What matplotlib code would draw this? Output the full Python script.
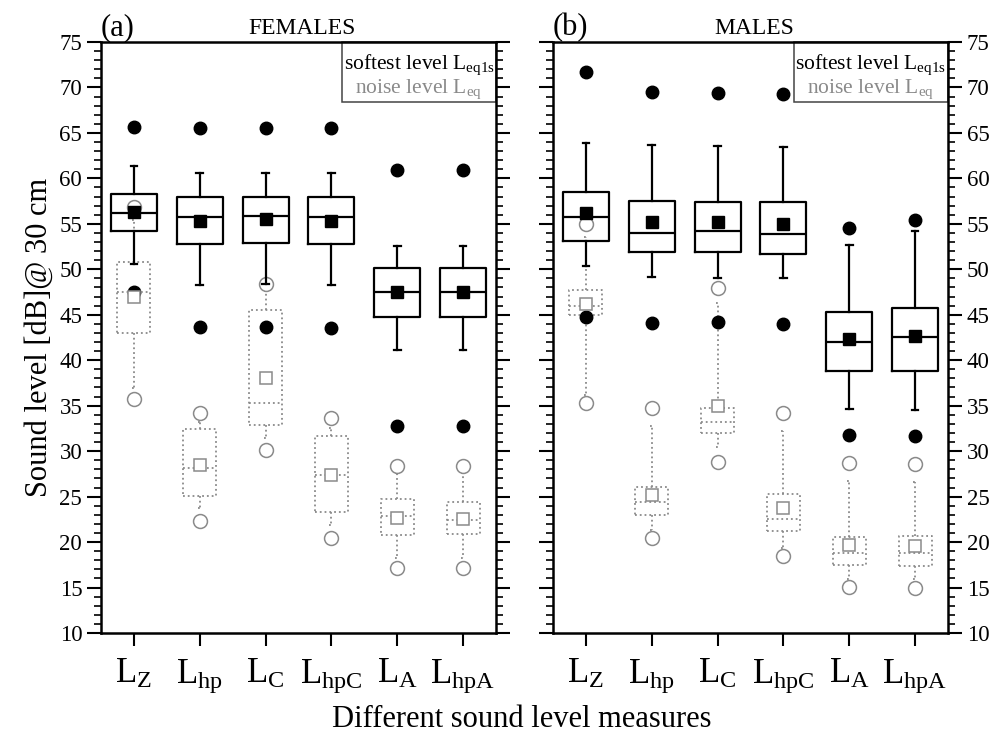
import numpy as np
import matplotlib
matplotlib.use("Agg")
import matplotlib.pyplot as plt
from matplotlib.patches import Rectangle
from matplotlib.ticker import MultipleLocator

plt.rcParams['font.family'] = ['Liberation Serif', 'DejaVu Serif']
plt.rcParams['mathtext.fontset'] = 'custom'
plt.rcParams['mathtext.rm'] = 'Liberation Serif'
plt.rcParams['mathtext.it'] = 'Liberation Serif:italic'
plt.rcParams['mathtext.bf'] = 'Liberation Serif:bold'

measures = [r"$\mathrm{L}_{\mathrm{Z}}$", r"$\mathrm{L}_{\mathrm{hp}}$", r"$\mathrm{L}_{\mathrm{C}}$",
            r"$\mathrm{L}_{\mathrm{hpC}}$", r"$\mathrm{L}_{\mathrm{A}}$", r"$\mathrm{L}_{\mathrm{hpA}}$"]

# softest level Leq1s: whislo, q1, med, q3, whishi, mean, fliers
fem_soft_whislo = [50.6, 48.3, 48.4, 48.3, 41.1, 41.1]
fem_soft_q1 = [54.2, 52.8, 52.9, 52.8, 44.7, 44.7]
fem_soft_med = [56.2, 55.8, 55.9, 55.8, 47.5, 47.5]
fem_soft_q3 = [58.3, 57.9, 58.0, 57.9, 50.1, 50.1]
fem_soft_whishi = [61.4, 60.6, 60.6, 60.6, 52.6, 52.6]
fem_soft_mean = [56.3, 55.3, 55.5, 55.3, 47.5, 47.5]
fem_soft_fliers = [[65.7, 47.5], [65.5, 43.6], [65.5, 43.7], [65.5, 43.5], [60.9, 32.8], [60.9, 32.8]]

# noise level Leq
fem_noise_whislo = [36.9, 23.7, 31.4, 21.9, 18.2, 18.2]
fem_noise_q1 = [43.0, 25.1, 32.9, 23.3, 20.8, 20.9]
fem_noise_med = [47.5, 28.1, 35.3, 27.4, 22.9, 22.4]
fem_noise_q3 = [50.8, 32.4, 45.5, 31.7, 24.7, 24.4]
fem_noise_whishi = [55.4, 33.2, 47.6, 32.5, 27.6, 27.6]
fem_noise_mean = [47.0, 28.5, 38.0, 27.4, 22.7, 22.5]
fem_noise_fliers = [[56.9, 35.7], [34.2, 22.3], [48.4, 30.1], [33.6, 20.5], [28.4, 17.2], [28.4, 17.1]]

male_soft_whislo = [50.4, 49.1, 49.0, 49.0, 34.6, 34.5]
male_soft_q1 = [53.1, 51.9, 51.9, 51.7, 38.8, 38.8]
male_soft_med = [55.7, 54.0, 54.2, 53.9, 42.0, 42.6]
male_soft_q3 = [58.5, 57.5, 57.4, 57.4, 45.3, 45.7]
male_soft_whishi = [63.9, 63.7, 63.6, 63.5, 52.7, 54.2]
male_soft_mean = [56.2, 55.2, 55.2, 55.0, 42.3, 42.7]
male_soft_fliers = [[71.7, 44.8], [69.5, 44.1], [69.4, 44.2], [69.3, 44.0], [54.5, 31.8], [55.4, 31.7]]

male_noise_whislo = [36.2, 21.3, 30.5, 19.3, 15.9, 15.9]
male_noise_q1 = [45.0, 23.0, 32.0, 21.2, 17.5, 17.4]
male_noise_med = [46.0, 24.4, 33.2, 22.5, 18.8, 18.8]
male_noise_q3 = [47.7, 26.1, 34.7, 25.3, 20.6, 20.7]
male_noise_whishi = [53.6, 32.8, 46.3, 32.2, 26.7, 26.6]
male_noise_mean = [46.2, 25.2, 35.0, 23.7, 19.7, 19.6]
male_noise_fliers = [[55.0, 35.3], [34.7, 20.5], [47.9, 28.8], [34.2, 18.5], [28.7, 15.1], [28.6, 15.0]]


def make_stats(lo, q1, med, q3, hi, mean, fl):
    return [dict(whislo=lo[i], q1=q1[i], med=med[i], q3=q3[i], whishi=hi[i],
                 mean=mean[i], fliers=fl[i]) for i in range(len(lo))]


gray = "#8a8a8a"
pos = np.arange(1, 7)


def draw_panel(ax, soft, noise):
    ax.bxp(noise, positions=pos, widths=0.5, showmeans=True, capwidths=0.06,
           boxprops=dict(color=gray, linestyle=":", linewidth=1.3),
           whiskerprops=dict(color=gray, linestyle=":", linewidth=1.3),
           capprops=dict(color=gray, linestyle=":", linewidth=1.3),
           medianprops=dict(color=gray, linestyle=":", linewidth=1.3),
           meanprops=dict(marker="s", markerfacecolor="white", markeredgecolor=gray,
                          markersize=8, markeredgewidth=1.1),
           flierprops=dict(marker="o", markerfacecolor="white", markeredgecolor=gray,
                           markersize=10, markeredgewidth=1.1))
    ax.bxp(soft, positions=pos, widths=0.7, showmeans=True, capwidths=0.1,
           boxprops=dict(color="black", linewidth=1.6),
           whiskerprops=dict(color="black", linewidth=1.6),
           capprops=dict(color="black", linewidth=1.6),
           medianprops=dict(color="black", linewidth=1.6),
           meanprops=dict(marker="s", markerfacecolor="black", markeredgecolor="black",
                          markersize=8),
           flierprops=dict(marker="o", markerfacecolor="black", markeredgecolor="black",
                           markersize=9))
    ax.set_xlim(0.5, 6.5)
    ax.set_ylim(10, 75)
    ax.set_xticks(pos)
    ax.set_xticklabels(measures, fontsize=25)
    ax.yaxis.set_major_locator(MultipleLocator(5))
    ax.yaxis.set_minor_locator(MultipleLocator(1))
    ax.tick_params(axis="x", direction="out", length=9, width=1.5, pad=9)
    ax.tick_params(axis="y", which="major", direction="out", length=10, width=1.5,
                   labelsize=16.5, left=True, right=True)
    ax.tick_params(axis="y", which="minor", direction="out", length=5, width=1.2,
                   left=True, right=True)
    for s in ax.spines.values():
        s.set_linewidth(1.8)
    # legend box
    ax.add_patch(Rectangle((0.61, 0.898), 0.39, 0.102, transform=ax.transAxes,
                           fill=False, edgecolor="#444444", linewidth=1.1, clip_on=False))
    ax.text(0.805, 0.962, r"softest level L$_{\mathrm{eq1s}}$", transform=ax.transAxes,
            ha="center", va="center", fontsize=15.5, color="black")
    ax.text(0.805, 0.92, r"noise level L$_{\mathrm{eq}}$", transform=ax.transAxes,
            ha="center", va="center", fontsize=15.5, color=gray)


fig = plt.figure(figsize=(9.94, 7.38), dpi=100)
ax1 = fig.add_axes([0.1016, 0.1423, 0.3974, 0.8008])
ax2 = fig.add_axes([0.5563, 0.1423, 0.3974, 0.8008])

draw_panel(ax1,
           make_stats(fem_soft_whislo, fem_soft_q1, fem_soft_med, fem_soft_q3,
                      fem_soft_whishi, fem_soft_mean, fem_soft_fliers),
           make_stats(fem_noise_whislo, fem_noise_q1, fem_noise_med, fem_noise_q3,
                      fem_noise_whishi, fem_noise_mean, fem_noise_fliers))
draw_panel(ax2,
           make_stats(male_soft_whislo, male_soft_q1, male_soft_med, male_soft_q3,
                      male_soft_whishi, male_soft_mean, male_soft_fliers),
           make_stats(male_noise_whislo, male_noise_q1, male_noise_med, male_noise_q3,
                      male_noise_whishi, male_noise_mean, male_noise_fliers))

ax1.tick_params(axis="y", labelleft=True, labelright=False)
ax2.tick_params(axis="y", labelleft=False, labelright=True)

ax1.text(0.0, 1.0, "(a)", transform=ax1.transAxes, fontsize=22, ha="left", va="bottom")
ax1.text(0.51, 1.005, "FEMALES", transform=ax1.transAxes, fontsize=17, ha="center", va="bottom")
ax2.text(0.0, 1.0, "(b)", transform=ax2.transAxes, fontsize=22, ha="left", va="bottom")
ax2.text(0.51, 1.005, "MALES", transform=ax2.transAxes, fontsize=17, ha="center", va="bottom")

ax1.set_ylabel("Sound level [dB]@ 30 cm", fontsize=22, labelpad=4)
fig.text(0.525, 0.006, "Different sound level measures", fontsize=22, ha="center", va="bottom")

fig.savefig("out.png", dpi=100)
